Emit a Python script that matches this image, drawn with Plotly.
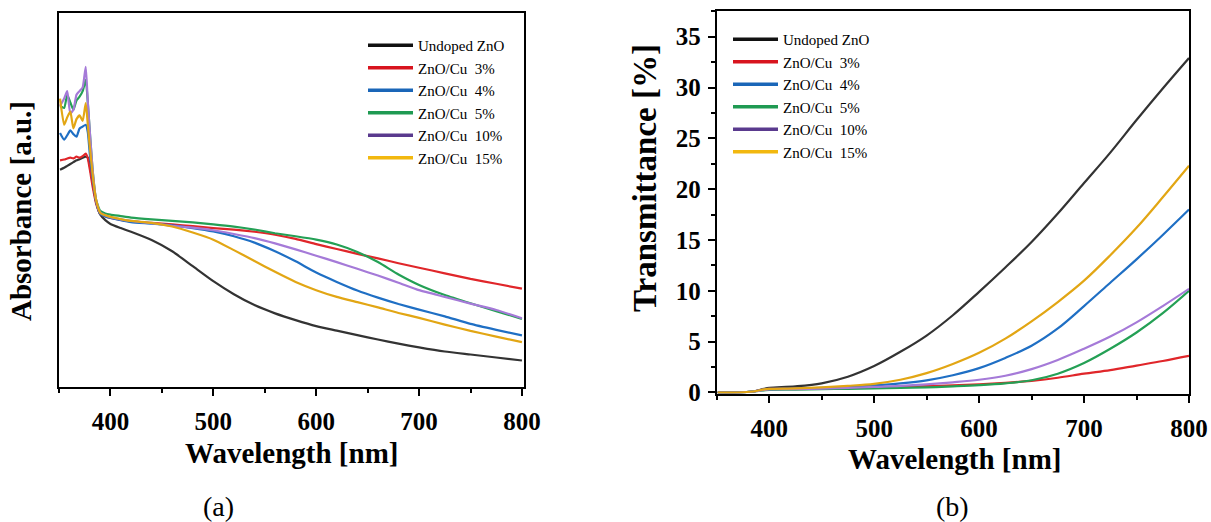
import plotly.graph_objects as go

# ---------------- data ----------------
labels = ["Undoped ZnO", "ZnO/Cu  3%", "ZnO/Cu  4%", "ZnO/Cu  5%", "ZnO/Cu  10%", "ZnO/Cu  15%"]
colors = ["#333333", "#e0262a", "#1f6fc4", "#24a055", "#a57ad8", "#e2a614"]
legend_colors = ["#111111", "#d8141e", "#1a66b8", "#1f9a52", "#5a3a8e", "#f2b80f"]

wl_abs = [351, 355, 358, 361, 364, 367, 370, 373, 376, 378, 380, 383, 386, 390, 395, 400,
          410, 420, 440, 460, 480, 500, 520, 540, 560, 580, 600, 620, 640, 660, 680, 700,
          725, 750, 775, 800]
abs_undoped = [0.580, 0.585, 0.590, 0.595, 0.600, 0.605, 0.608, 0.612, 0.615, 0.612, 0.590, 0.540,
               0.495, 0.460, 0.445, 0.435, 0.424, 0.414, 0.392, 0.362, 0.322, 0.282, 0.247, 0.218,
               0.196, 0.178, 0.162, 0.150, 0.138, 0.126, 0.115, 0.105, 0.094, 0.086, 0.078, 0.070]
abs_cu3 = [0.605, 0.607, 0.610, 0.612, 0.610, 0.615, 0.612, 0.616, 0.623, 0.610, 0.580, 0.530,
           0.490, 0.462, 0.455, 0.451, 0.446, 0.442, 0.438, 0.434, 0.429, 0.424, 0.420, 0.414,
           0.406, 0.395, 0.381, 0.368, 0.355, 0.343, 0.330, 0.318, 0.303, 0.288, 0.275, 0.262]
abs_cu4 = [0.678, 0.660, 0.672, 0.685, 0.675, 0.668, 0.690, 0.695, 0.700, 0.680, 0.620, 0.550,
           0.495, 0.462, 0.455, 0.451, 0.445, 0.440, 0.436, 0.431, 0.424, 0.415, 0.402, 0.385,
           0.362, 0.335, 0.305, 0.280, 0.257, 0.238, 0.221, 0.206, 0.188, 0.168, 0.152, 0.137]
abs_cu5 = [0.750, 0.745, 0.780, 0.760, 0.740, 0.765, 0.775, 0.790, 0.820, 0.760, 0.680, 0.570,
           0.500, 0.470, 0.463, 0.460, 0.456, 0.452, 0.447, 0.443, 0.439, 0.434, 0.428, 0.420,
           0.410, 0.402, 0.393, 0.380, 0.360, 0.333, 0.300, 0.272, 0.245, 0.223, 0.202, 0.181]
abs_cu10 = [0.750, 0.770, 0.790, 0.730, 0.740, 0.780, 0.790, 0.800, 0.855, 0.760, 0.680, 0.570,
            0.500, 0.466, 0.458, 0.453, 0.447, 0.443, 0.437, 0.430, 0.425, 0.418, 0.408, 0.397,
            0.383, 0.367, 0.350, 0.333, 0.315, 0.297, 0.278, 0.258, 0.240, 0.222, 0.205, 0.183]
abs_cu15 = [0.770, 0.700, 0.720, 0.735, 0.690, 0.715, 0.725, 0.710, 0.758, 0.700, 0.640, 0.560,
            0.500, 0.465, 0.458, 0.454, 0.448, 0.443, 0.438, 0.428, 0.412, 0.393, 0.365, 0.336,
            0.307, 0.280, 0.258, 0.240, 0.226, 0.212, 0.197, 0.184, 0.166, 0.149, 0.134, 0.119]

wl_tr = [351, 370, 385, 395, 400, 425, 450, 475, 500, 525, 550, 575, 600, 625, 650, 675,
         700, 725, 750, 775, 800]
tr_undoped = [0.0, 0.0, 0.1, 0.35, 0.45, 0.6, 0.9, 1.55, 2.6, 4.0, 5.6, 7.6, 9.9, 12.3, 14.8,
              17.6, 20.6, 23.6, 26.8, 29.9, 32.9]
tr_cu3 = [0.0, 0.0, 0.1, 0.3, 0.35, 0.38, 0.42, 0.46, 0.5, 0.55, 0.62, 0.7, 0.8, 0.95, 1.15,
          1.45, 1.85, 2.2, 2.65, 3.1, 3.6]
tr_cu4 = [0.0, 0.0, 0.1, 0.3, 0.35, 0.38, 0.45, 0.55, 0.7, 0.9, 1.2, 1.7, 2.4, 3.4, 4.6,
          6.3, 8.5, 10.8, 13.1, 15.5, 18.0]
tr_cu5 = [0.0, 0.0, 0.1, 0.2, 0.25, 0.28, 0.32, 0.36, 0.4, 0.45, 0.5, 0.6, 0.72, 0.9, 1.2,
          1.85, 2.9, 4.3, 5.9, 7.8, 10.0]
tr_cu10 = [0.0, 0.0, 0.1, 0.25, 0.3, 0.33, 0.38, 0.45, 0.55, 0.65, 0.8, 1.0, 1.25, 1.65, 2.3,
           3.2, 4.3, 5.5, 6.9, 8.5, 10.2]
tr_cu15 = [0.0, 0.0, 0.1, 0.3, 0.35, 0.4, 0.5, 0.65, 0.85, 1.25, 1.9, 2.8, 3.9, 5.3, 7.0,
           8.9, 11.0, 13.5, 16.2, 19.2, 22.3]

x_ticks = [400, 500, 600, 700, 800]
y_ticks_tr = [0, 5, 10, 15, 20, 25, 30, 35]

abs_series = [abs_undoped, abs_cu3, abs_cu4, abs_cu5, abs_cu10, abs_cu15]
tr_series = [tr_undoped, tr_cu3, tr_cu4, tr_cu5, tr_cu10, tr_cu15]

# ---------------- figure ----------------
W, H = 1211, 522
FONT = "Liberation Serif, Times New Roman, serif"
fig = go.Figure()

for i, (lab, ys) in enumerate(zip(labels, abs_series)):
    fig.add_trace(go.Scatter(x=wl_abs, y=ys, mode="lines", name=lab,
                             line=dict(color=colors[i], width=2.2, shape="spline", smoothing=0.5),
                             xaxis="x", yaxis="y", legend="legend", showlegend=False))
for i, (lab, ys) in enumerate(zip(labels, tr_series)):
    fig.add_trace(go.Scatter(x=wl_tr, y=ys, mode="lines", name=lab,
                             line=dict(color=colors[i], width=2.2, shape="spline", smoothing=1.0),
                             xaxis="x2", yaxis="y2", legend="legend2", showlegend=False))
# legend entries (same series, legend styling)
for i, lab in enumerate(labels):
    fig.add_trace(go.Scatter(x=[None], y=[None], mode="lines", name=lab,
                             line=dict(color=legend_colors[i], width=3.5),
                             xaxis="x", yaxis="y", legend="legend"))
for i, lab in enumerate(labels):
    fig.add_trace(go.Scatter(x=[None], y=[None], mode="lines", name=lab,
                             line=dict(color=legend_colors[i], width=3.5),
                             xaxis="x2", yaxis="y2", legend="legend2"))

tickfont = dict(family=FONT, size=25, color="black", weight="bold")
axis_common = dict(showline=True, linecolor="black", linewidth=2, mirror=True,
                   showgrid=False, zeroline=False, tickcolor="black", tickwidth=2,
                   automargin=False)

fig.update_layout(
    width=W, height=H,
    margin=dict(l=0, r=0, t=0, b=0, autoexpand=False),
    paper_bgcolor="white", plot_bgcolor="white",
    xaxis=dict(domain=[59 / W, 524 / W], range=[350, 802], tickvals=x_ticks,
               ticks="outside", ticklen=7, tickfont=tickfont, ticklabelstandoff=4,
               minor=dict(dtick=50, tick0=350, ticks="outside", ticklen=4, tickwidth=2,
                          tickcolor="black"),
               anchor="y", **axis_common),
    yaxis=dict(domain=[1 - 386.7 / H, 1 - 12.5 / H], range=[0, 1], showticklabels=False,
               ticks="", anchor="x", **axis_common),
    xaxis2=dict(domain=[716.7 / W, 1189 / W], range=[350, 800], tickvals=x_ticks,
                ticks="outside", ticklen=7, tickfont=tickfont, ticklabelstandoff=4,
                minor=dict(dtick=50, tick0=350, ticks="outside", ticklen=4, tickwidth=2,
                           tickcolor="black"),
                anchor="y2", **axis_common),
    yaxis2=dict(domain=[1 - 393.5 / H, 1 - 11.3 / H], range=[-0.1, 37.5], tickvals=y_ticks_tr,
                ticks="outside", ticklen=7, tickfont=tickfont, ticklabelstandoff=2,
                minor=dict(dtick=2.5, tick0=0, ticks="outside", ticklen=4, tickwidth=2,
                           tickcolor="black"),
                anchor="x2", **axis_common),
    legend=dict(x=363 / W, y=1 - 29 / H, xanchor="left", yanchor="top",
                bgcolor="rgba(0,0,0,0)", font=dict(family=FONT, size=15, color="black"),
                itemwidth=45, tracegroupgap=0),
    legend2=dict(x=728 / W, y=1 - 23 / H, xanchor="left", yanchor="top",
                 bgcolor="rgba(0,0,0,0)", font=dict(family=FONT, size=15, color="black"),
                 itemwidth=45, tracegroupgap=0),
)

title_font = dict(family=FONT, size=29, color="black", weight="bold")
annotations = [
    dict(text="Wavelength [nm]", x=291.5 / W, y=1 - 453 / H, xref="paper", yref="paper",
         showarrow=False, font=title_font, xanchor="center", yanchor="middle"),
    dict(text="Wavelength [nm]", x=954 / W, y=1 - 459 / H, xref="paper", yref="paper",
         showarrow=False, font=title_font, xanchor="center", yanchor="middle"),
    dict(text="Absorbance [a.u.]", x=21 / W, y=1 - 211 / H, xref="paper", yref="paper",
         showarrow=False, font=title_font, textangle=-90, xanchor="center", yanchor="middle"),
    dict(text="Transmittance [%]", x=645 / W, y=1 - 178 / H, xref="paper", yref="paper",
         showarrow=False, font=dict(family=FONT, size=33, color="black", weight="bold"),
         textangle=-90, xanchor="center", yanchor="middle"),
    dict(text="(a)", x=218 / W, y=1 - 506 / H, xref="paper", yref="paper",
         showarrow=False, font=dict(family=FONT, size=28, color="black"),
         xanchor="center", yanchor="middle"),
    dict(text="(b)", x=952 / W, y=1 - 506 / H, xref="paper", yref="paper",
         showarrow=False, font=dict(family=FONT, size=28, color="black"),
         xanchor="center", yanchor="middle"),
]
fig.update_layout(annotations=annotations)

fig.write_html("out.html")
